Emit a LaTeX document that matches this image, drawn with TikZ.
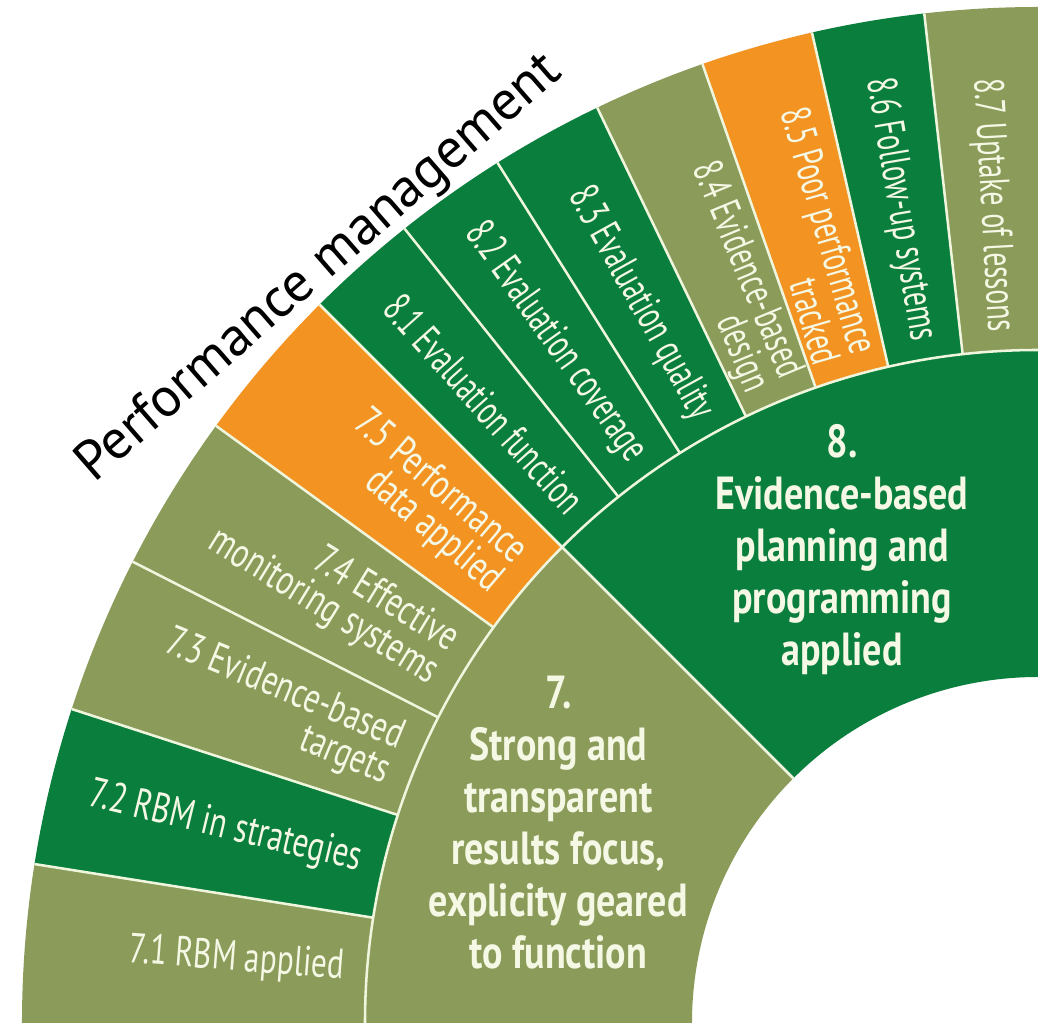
\documentclass[tikz,border=0pt]{standalone}
\usepackage{fontspec}
\setmainfont{PT Sans}
\newfontfamily\narrowfont{PT Sans}[FakeStretch=0.74]
\newfontfamily\slimfont{PT Sans}[FakeStretch=0.66]
\newfontfamily\boldnarrow{PT Sans}[FakeStretch=0.82]
\definecolor{pmolive}{RGB}{139,155,90}
\definecolor{pmgreen}{RGB}{10,126,60}
\definecolor{pmorange}{RGB}{243,147,34}
\definecolor{pmline}{RGB}{240,246,222}
\definecolor{pmtext}{RGB}{244,248,228}
\newcommand{\ringseg}[5]{\fill[#1] (#2:#4) arc[start angle=#2, end angle=#3, radius=#4cm] -- (#3:#5) arc[start angle=#3, end angle=#2, radius=#5cm] -- cycle;}
\tikzset{
    sep/.style={draw=pmline, line width=1.8pt},
    sublabel/.style={font=\narrowfont\fontsize{30}{27}\selectfont, text=pmtext, anchor=east, align=right, inner sep=0pt},
    slimlabel/.style={sublabel, font=\slimfont\fontsize{30}{26}\selectfont},
    mainlabel/.style={font=\boldnarrow\bfseries\fontsize{33}{37}\selectfont, text=pmtext, align=center, inner sep=0pt},
}
\begin{document}
\begin{tikzpicture}
        \useasboundingbox (-25.95,-0.15) rectangle (0.425,25.575);

        \ringseg{pmolive}{180}{171}{16.825}{25.4}
        \ringseg{pmgreen}{171}{162}{16.825}{25.4}
        \ringseg{pmolive}{162}{153}{16.825}{25.4}
        \ringseg{pmolive}{153}{144}{16.825}{25.4}
        \ringseg{pmorange}{144}{135}{16.825}{25.4}
        \ringseg{pmgreen}{135}{128.571}{16.825}{25.4}
        \ringseg{pmgreen}{128.571}{122.143}{16.825}{25.4}
        \ringseg{pmgreen}{122.143}{115.714}{16.825}{25.4}
        \ringseg{pmolive}{115.714}{109.286}{16.825}{25.4}
        \ringseg{pmorange}{109.286}{102.857}{16.825}{25.4}
        \ringseg{pmgreen}{102.857}{96.429}{16.825}{25.4}
        \ringseg{pmolive}{96.429}{90}{16.825}{25.4}
        \ringseg{pmolive}{180}{135}{8.65}{16.825}
        \ringseg{pmgreen}{135}{90}{8.65}{16.825}

        \foreach \a in {171,162,153,144,128.571,122.143,115.714,109.286,102.857,96.429}
            \draw[sep] (\a:16.825) -- (\a:25.4);
        \draw[sep] (135:8.65) -- (135:25.4);
        \draw[sep] (180:16.825) arc[start angle=180, end angle=90, radius=16.825cm];

        \foreach \a/\txt/\nm in {
            175.5/{7.1 RBM applied}/l71,
            166.5/{7.2 RBM in strategies}/l72,
            157.5/{7.3 Evidence-based\\targets}/l73,
            148.5/{7.4 Effective\\monitoring systems}/l74,
            139.5/{7.5 Performance\\data applied}/l75}
            \node[sublabel, rotate=\a-180] (\nm) at (\a:17.4) {\txt};

        \foreach \a/\txt/\nm in {
            131.786/{8.1 Evaluation function}/l81,
            125.357/{8.2 Evaluation coverage}/l82,
            118.929/{8.3 Evaluation quality}/l83,
            112.5/{8.4 Evidence-based\\design}/l84,
            106.071/{8.5 Poor performance\\tracked}/l85,
            99.643/{8.6 Follow-up systems}/l86,
            93.214/{8.7 Uptake of lessons}/l87}
            \node[slimlabel, rotate=\a-180] (\nm) at (\a:17.3) {\txt};

        \node[mainlabel] (main7) at (157.3:13.0) {7.\\Strong and\\transparent\\results focus,\\explicity geared\\to function};
        \node[mainlabel] (main8) at (112.5:12.8) {8.\\Evidence-based\\planning and\\programming\\applied};

        \node[rotate=41, font=\fontsize{39.5}{41}\selectfont] (title) at (-17.95,18.85) {Performance management};

    \end{tikzpicture}
\end{document}
